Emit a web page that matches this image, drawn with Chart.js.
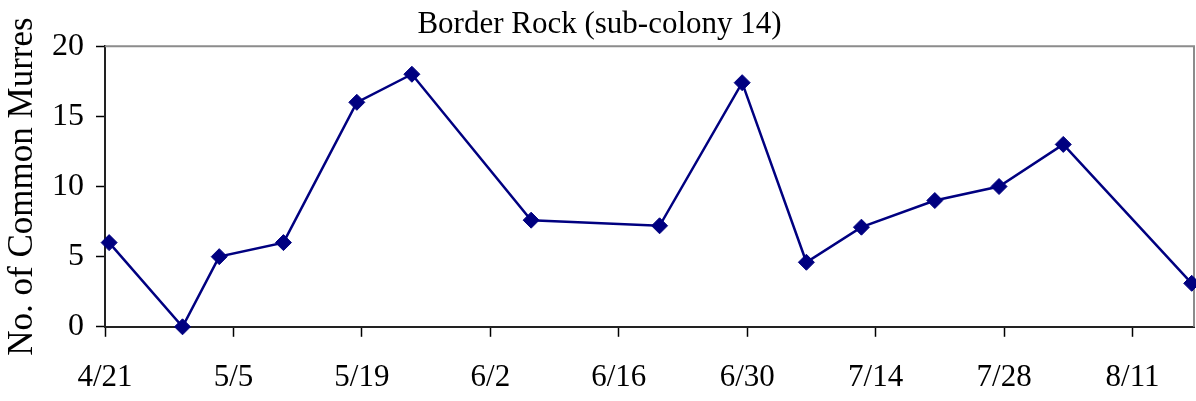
<!DOCTYPE html>
<html>
<head>
<meta charset="utf-8">
<script src="https://cdn.jsdelivr.net/npm/chart.js@4.4.1/dist/chart.umd.min.js"></script>
<style>
  html, body { margin: 0; padding: 0; background: #fff; }
  #wrap { width: 1196px; height: 401px; position: relative; }
</style>
</head>
<body>
<div id="wrap"><canvas id="c" width="1196" height="401"></canvas></div>
<script>
// ---- data ----
const chartTitle = 'Border Rock (sub-colony 14)';
const yAxisTitle = 'No. of Common Murres';
const surveyDates = ['4/21','4/29','5/3','5/10','5/18','5/24','6/6','6/20','6/29','7/6','7/12','7/20','7/27','8/3','8/17'];
const murreCounts = [6, 0, 5, 6, 16, 18, 7.6, 7.2, 17.4, 4.6, 7.1, 9, 10, 13, 3.1];
const xTickLabels = ['4/21','5/5','5/19','6/2','6/16','6/30','7/14','7/28','8/11'];
const yTickValues = [0, 5, 10, 15, 20];
const axisStart = '4/21';
const axisEnd = '8/18';

// date helpers (days since axis start)
function dayNum(md) {
  const [m, d] = md.split('/').map(Number);
  return Date.UTC(2000, m - 1, d) / 86400000;
}
const base = dayNum(axisStart);
const offset = md => dayNum(md) - base;
const points = surveyDates.map((d, i) => ({ x: offset(d) + 0.45, y: murreCounts[i] }));
const tickPositions = xTickLabels.map(offset);
const labelAt = {};
xTickLabels.forEach((l, i) => { labelAt[tickPositions[i]] = l; });

const serif = "'Liberation Serif', 'Times New Roman', serif";

const frame = {
  id: 'frame',
  beforeDatasetsDraw(chart) {
    const { ctx, chartArea: a } = chart;
    ctx.save();
    ctx.strokeStyle = '#8c8c8c';
    ctx.lineWidth = 2;
    ctx.beginPath();
    ctx.moveTo(a.left, a.top);
    ctx.lineTo(a.right, a.top);
    ctx.lineTo(a.right, a.bottom);
    ctx.stroke();
    ctx.restore();
  }
};

new Chart(document.getElementById('c'), {
  type: 'line',
  data: {
    datasets: [{
      data: points,
      borderColor: '#000080',
      backgroundColor: '#000080',
      borderWidth: 2.5,
      pointStyle: 'rectRot',
      pointRadius: 8,
      pointHoverRadius: 8,
      pointBackgroundColor: '#000080',
      pointBorderColor: '#000080',
      pointBorderWidth: 1,
      tension: 0,
      clip: false
    }]
  },
  options: {
    responsive: false,
    animation: false,
    events: [],
    layout: { autoPadding: false, padding: { top: 0, right: 2, left: 5, bottom: -17 } },
    plugins: {
      legend: { display: false },
      tooltip: { enabled: false },
      title: {
        display: true,
        text: chartTitle,
        color: '#000',
        font: { family: serif, size: 31, weight: 'normal' },
        padding: { top: 6, bottom: 3 }
      }
    },
    scales: {
      x: {
        type: 'linear',
        min: 0,
        max: offset(axisEnd) - 0.3,
        afterBuildTicks: axis => { axis.ticks = tickPositions.map(v => ({ value: v })); },
        ticks: {
          autoSkip: false,
          maxRotation: 0,
          color: '#000',
          font: { family: serif, size: 31 },
          padding: 22,
          callback: v => labelAt[v]
        },
        grid: { drawOnChartArea: false, color: '#000', tickLength: 10, tickWidth: 1.5 },
        border: { color: '#222', width: 2 }
      },
      y: {
        min: 0,
        max: 20,
        afterBuildTicks: axis => { axis.ticks = yTickValues.map(v => ({ value: v })); },
        ticks: {
          color: '#000',
          font: { family: serif, size: 32 },
          padding: 12
        },
        grid: { drawOnChartArea: false, color: '#000', tickLength: 9, tickWidth: 1.5 },
        border: { color: '#222', width: 2 },
        title: {
          display: true,
          text: yAxisTitle,
          color: '#000',
          font: { family: serif, size: 35, lineHeight: 1.0 },
          padding: { top: 0, bottom: 0 }
        }
      }
    }
  },
  plugins: [frame]
});
</script>
</body>
</html>
